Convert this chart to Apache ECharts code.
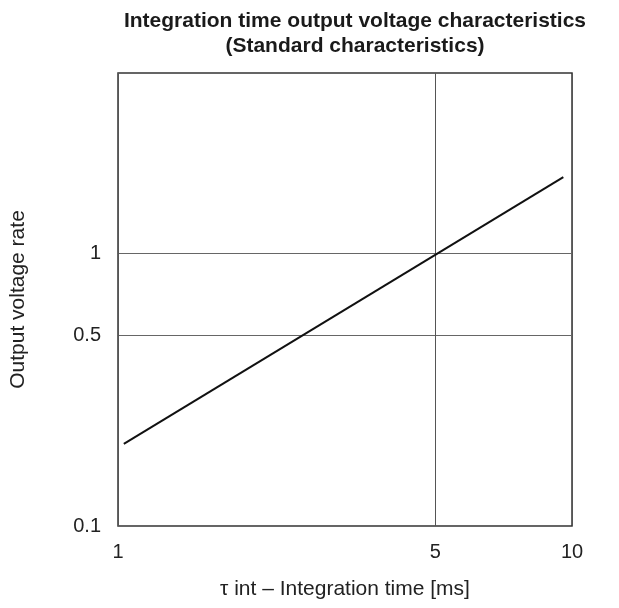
<!DOCTYPE html>
<html>
<head>
<meta charset="utf-8">
<script src="https://cdn.jsdelivr.net/npm/echarts@6/dist/echarts.min.js"></script>
<style>
  html, body { margin: 0; padding: 0; background: #fff; }
  #chart { width: 619px; height: 608px; }
</style>
</head>
<body>
<div id="chart"></div>
<script>
// Data (log-log straight line)
const integrationTime = [1.03, 9.57];      // ms
const outputRate = [0.2, 1.9];             // relative output voltage
const xTickValues = [1, 5, 10];
const yTickValues = [0.1, 0.5, 1];
const xRange = [1, 10];
const yRange = [0.1, 4.57];

const chart = echarts.init(document.getElementById('chart'), null, { renderer: 'canvas' });
const font = '"Liberation Sans", Arial, sans-serif';

chart.setOption({
  animation: false,
  backgroundColor: '#ffffff',
  title: {
    text: 'Integration time output voltage characteristics\n(Standard characteristics)',
    left: 350,
    top: 4,
    textAlign: 'center',
    textStyle: { fontFamily: font, fontSize: 21, fontWeight: 'bold', color: '#1a1a1a', lineHeight: 25 }
  },
  grid: {
    left: 118, right: 47, top: 73, bottom: 82,
    show: true, borderColor: '#333', borderWidth: 1.5, backgroundColor: 'transparent'
  },
  xAxis: {
    type: 'log',
    min: xRange[0], max: xRange[1],
    name: 'τ int – Integration time [ms]',
    nameLocation: 'middle',
    nameGap: 53,
    nameTextStyle: { fontFamily: font, fontSize: 21, color: '#222' },
    axisLine: { show: false },
    axisTick: { show: false, customValues: xTickValues },
    axisLabel: { customValues: xTickValues, margin: 16, fontFamily: font, fontSize: 20, color: '#222',
      formatter: v => String(v) },
    splitLine: { show: true, lineStyle: { color: '#555', width: 1 } },
    minorSplitLine: { show: false }
  },
  yAxis: {
    type: 'log',
    min: yRange[0], max: yRange[1],
    name: 'Output voltage rate',
    nameLocation: 'middle',
    nameGap: 89,
    nameTextStyle: { fontFamily: font, fontSize: 21, color: '#222' },
    axisLine: { show: false },
    axisTick: { show: false, customValues: yTickValues },
    axisLabel: { customValues: yTickValues, margin: 17, fontFamily: font, fontSize: 20, color: '#222',
      formatter: v => String(v) },
    splitLine: { show: true, lineStyle: { color: '#666', width: 1 } }
  },
  series: [{
    type: 'line',
    data: integrationTime.map((t, i) => [t, outputRate[i]]),
    showSymbol: false,
    symbol: 'none',
    lineStyle: { color: '#111', width: 2 },
    z: 5
  }]
});
</script>
</body>
</html>
